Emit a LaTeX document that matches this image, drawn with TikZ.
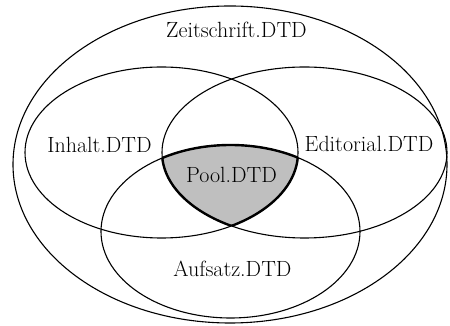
\documentclass[tikz,border=0pt]{standalone}
\tikzset{
  setline/.style={draw=black, line width=1.1pt},
  edgeline/.style={draw=black, line width=2.4pt},
  lbl/.style={anchor=base, inner sep=0pt, font=\rmfamily\fontsize{22}{26}\selectfont},
}
\def\outerE{(230,161.5) ellipse [x radius=217, y radius=158.5]}
\def\leftE{(161.5,173.5) ellipse [x radius=136.5, y radius=85.5]}
\def\rightE{(304.5,173.5) ellipse [x radius=142.5, y radius=85.5]}
\def\botE{(230.5,94.5) ellipse [x radius=129.5, y radius=86.5]}
\begin{document}
\begin{tikzpicture}[x=1pt, y=1pt]
\useasboundingbox[fill=white] (0,0) rectangle (450,326);
% shaded intersection
\begin{scope}
  \clip \leftE;
  \clip \rightE;
  \fill[black!25] \botE;
\end{scope}
% thicker boundary of the shaded part
\begin{scope}
  \clip \leftE; \clip \rightE;
  \draw[edgeline] \botE;
\end{scope}
\begin{scope}
  \clip \botE; \clip \leftE;
  \draw[edgeline] \rightE;
\end{scope}
\begin{scope}
  \clip \botE; \clip \rightE;
  \draw[edgeline] \leftE;
\end{scope}
% ellipses
\draw[setline] \outerE;
\draw[setline] \leftE;
\draw[setline] \rightE;
\draw[setline] \botE;
% labels
\node[lbl] (zeit) at (236.5,288) {Zeitschrift.DTD};
\node[lbl] (inhalt) at (99.5,173) {Inhalt.DTD};
\node[lbl] (edit) at (369,174) {Editorial.DTD};
\node[lbl] (pool) at (231.5,143) {Pool.DTD};
\node[lbl] (aufsatz) at (232.5,49) {Aufsatz.DTD};
\end{tikzpicture}
\end{document}
